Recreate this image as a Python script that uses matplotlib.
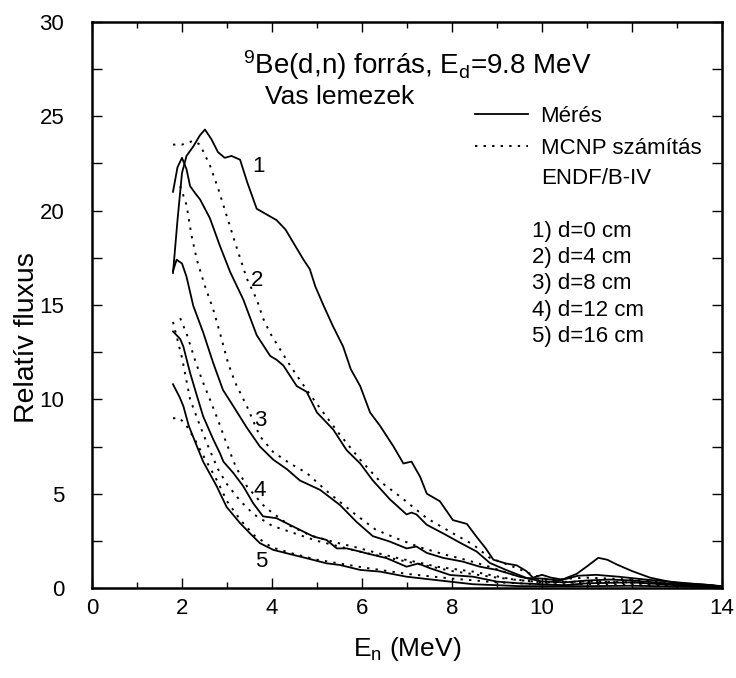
import matplotlib
matplotlib.use("Agg")
import matplotlib.pyplot as plt
from matplotlib.ticker import MultipleLocator
from matplotlib.lines import Line2D

plt.rcParams["font.family"] = "Liberation Sans"
plt.rcParams["mathtext.fontset"] = "custom"
plt.rcParams["mathtext.rm"] = "Liberation Sans"
plt.rcParams["mathtext.it"] = "Liberation Sans:italic"

# measured spectra (Mérés), d = 0, 4, 8, 12, 16 cm
m1_x = [1.8, 1.9, 2.0, 2.1, 2.25, 2.4, 2.51, 2.65, 2.8, 2.95, 3.1, 3.29, 3.45, 3.66, 3.88, 4.1, 4.3, 4.5, 4.7,
        4.84, 4.96, 5.14, 5.35, 5.58, 5.75, 5.96, 6.18, 6.4, 6.7, 6.92, 7.1, 7.29, 7.44, 7.73, 8.02, 8.33, 8.55,
        8.75, 8.92, 9.2, 9.44, 9.65, 9.8, 10.0, 10.2, 10.45, 10.77, 11.0, 11.25, 11.45, 11.66, 12.0, 12.4, 12.8,
        13.1, 13.5, 13.8, 14.0]
m1_y = [16.7, 19.5, 22.0, 22.9, 23.4, 24.0, 24.3, 23.8, 23.1, 22.8, 22.9, 22.7, 21.5, 20.1, 19.8, 19.5, 19.0,
        18.2, 17.4, 16.9, 16.0, 15.0, 13.9, 12.8, 11.6, 10.7, 9.3, 8.6, 7.5, 6.6, 6.7, 5.9, 5.0, 4.6, 3.6, 3.4,
        2.7, 2.1, 1.5, 1.3, 1.2, 0.9, 0.55, 0.7, 0.55, 0.45, 0.75, 1.15, 1.6, 1.5, 1.25, 0.9, 0.55, 0.35, 0.25,
        0.2, 0.15, 0.05]
m2_x = [1.8, 1.9, 2.0, 2.1, 2.18, 2.3, 2.4, 2.62, 2.84, 3.07, 3.36, 3.66, 3.96, 4.1, 4.25, 4.55, 4.77, 5.0,
        5.36, 5.66, 5.96, 6.24, 6.62, 6.99, 7.1, 7.21, 7.44, 7.8, 8.18, 8.55, 8.84, 9.2, 9.66, 10.0, 10.4, 10.8,
        11.2, 11.7, 12.3, 13.0, 13.5, 14.0]
m2_y = [21.0, 22.3, 22.8, 22.2, 21.3, 20.9, 20.6, 19.6, 18.15, 16.75, 15.3, 13.4, 12.3, 12.1, 11.8, 10.7, 10.4,
        9.3, 8.4, 7.3, 6.6, 5.7, 4.7, 3.9, 4.0, 3.9, 3.35, 2.9, 2.4, 1.93, 1.33, 0.96, 0.53, 0.5, 0.4, 0.65,
        0.7, 0.6, 0.45, 0.3, 0.2, 0.1]
m3_x = [1.8, 1.88, 2.0, 2.1, 2.25, 2.47, 2.69, 2.91, 3.14, 3.44, 3.73, 4.03, 4.33, 4.62, 5.07, 5.51, 5.88,
        6.24, 6.62, 6.99, 7.21, 7.44, 7.8, 8.24, 8.62, 9.0, 9.5, 10.0, 10.5, 11.0, 11.5, 12.0, 12.5, 13.0, 14.0]
m3_y = [16.8, 17.4, 17.2, 16.5, 14.96, 13.55, 11.95, 10.5, 9.64, 8.5, 7.5, 6.8, 6.3, 5.7, 5.2, 4.4, 3.5,
        2.75, 2.46, 2.1, 2.2, 1.86, 1.6, 1.4, 1.13, 0.96, 0.6, 0.35, 0.3, 0.4, 0.45, 0.4, 0.3, 0.2, 0.05]
m4_x = [1.8, 1.96, 2.03, 2.18, 2.33, 2.47, 2.69, 2.84, 2.92, 3.14, 3.36, 3.58, 3.8, 4.1, 4.47, 4.92, 5.21,
        5.44, 5.66, 5.96, 6.1, 6.55, 6.99, 7.25, 7.51, 7.96, 8.47, 9.0, 9.5, 10.0, 10.5, 11.0, 12.0, 13.0, 14.0]
m4_y = [13.6, 13.2, 12.8, 11.4, 10.2, 9.1, 7.9, 7.16, 6.7, 6.1, 5.4, 4.5, 3.8, 3.7, 3.26, 2.73, 2.55, 2.1,
        2.1, 1.93, 1.84, 1.58, 1.13, 1.3, 1.05, 0.69, 0.6, 0.34, 0.25, 0.2, 0.15, 0.25, 0.3, 0.15, 0.05]
m5_x = [1.8, 1.95, 2.03, 2.15, 2.3, 2.47, 2.77, 2.99, 3.29, 3.51, 3.73, 4.03, 4.33, 4.77, 5.21, 5.51, 5.96,
        6.4, 6.99, 7.73, 8.47, 9.0, 9.5, 10.0, 11.0, 12.0, 13.0, 14.0]
m5_y = [10.8, 10.1, 9.64, 8.6, 7.7, 6.7, 5.4, 4.3, 3.44, 2.9, 2.38, 2.02, 1.84, 1.58, 1.31, 1.22, 0.96, 0.87,
        0.6, 0.4, 0.2, 0.15, 0.1, 0.1, 0.1, 0.12, 0.08, 0.03]

# MCNP calculation (ENDF/B-IV)
c1_x = [1.8, 2.0, 2.25, 2.4, 2.62, 2.8, 2.99, 3.18, 3.44, 3.66, 3.8, 3.96, 4.18, 4.4, 4.77, 5.14, 5.5, 5.96,
        6.4, 6.84, 7.44, 8.02, 8.47, 8.84, 9.36, 9.8, 10.2, 10.6, 11.0, 11.5, 12.0, 12.5, 13.0, 13.5, 14.0]
c1_y = [23.5, 23.5, 23.7, 23.5, 22.4, 21.2, 19.75, 18.3, 16.4, 15.3, 14.3, 13.5, 12.65, 11.8, 10.5, 9.3, 8.15,
        6.8, 5.65, 4.86, 3.7, 2.9, 2.3, 1.6, 1.13, 0.7, 0.4, 0.5, 0.55, 0.5, 0.45, 0.35, 0.25, 0.15, 0.05]
c2_x = [1.96, 2.1, 2.21, 2.33, 2.51, 2.69, 2.84, 3.02, 3.18, 3.44, 3.73, 4.03, 4.4, 4.77, 5.21, 5.8, 6.3, 6.8,
        7.3, 7.8, 8.3, 8.8, 9.3, 9.8, 10.3, 11.0, 12.0, 13.0, 14.0]
c2_y = [21.3, 20.3, 18.7, 17.4, 16.0, 14.8, 13.55, 11.95, 10.9, 9.64, 8.05, 7.2, 6.6, 6.1, 5.15, 4.0, 3.1, 2.6,
        2.15, 1.8, 1.5, 1.15, 0.75, 0.45, 0.3, 0.35, 0.3, 0.2, 0.05]
c3_x = [1.96, 2.1, 2.3, 2.45, 2.62, 2.8, 3.0, 3.2, 3.44, 3.8, 4.0, 4.4, 4.84, 5.44, 5.88, 6.33, 6.77, 7.36,
        7.66, 8.47, 9.36, 10.0, 11.0, 12.0, 13.0, 14.0]
c3_y = [14.3, 13.5, 12.0, 11.0, 10.0, 8.9, 7.6, 6.4, 5.4, 4.4, 4.0, 3.3, 2.8, 2.4, 2.15, 1.86, 1.6, 1.3, 1.13,
        0.87, 0.45, 0.3, 0.35, 0.3, 0.2, 0.05]
c4_x = [1.8, 2.0, 2.18, 2.4, 2.6, 2.8, 3.0, 3.3, 3.6, 4.0, 4.5, 5.0, 5.5, 6.0, 7.0, 8.0, 9.0, 10.0, 11.0,
        12.0, 13.0, 14.0]
c4_y = [14.1, 12.2, 10.0, 8.6, 7.4, 6.3, 5.5, 4.6, 3.9, 3.3, 2.9, 2.5, 2.2, 1.9, 1.4, 0.9, 0.55, 0.3, 0.3,
        0.25, 0.15, 0.05]
c5_x = [1.8, 1.95, 2.1, 2.3, 2.5, 2.8, 3.0, 3.3, 3.6, 4.0, 4.5, 5.0, 5.5, 6.0, 7.0, 8.0, 9.0, 10.0, 11.0,
        12.0, 13.0, 14.0]
c5_y = [9.0, 9.0, 8.6, 7.8, 6.9, 5.6, 4.6, 3.6, 2.8, 2.15, 1.8, 1.5, 1.3, 1.1, 0.75, 0.5, 0.3, 0.2, 0.2,
        0.15, 0.1, 0.03]

curve_labels = ["1", "2", "3", "4", "5"]
label_x = [3.69, 3.67, 3.73, 3.73, 3.76]
label_y = [22.33, 16.29, 8.86, 5.15, 1.43]
thickness = ["1) d=0 cm", "2) d=4 cm", "3) d=8 cm", "4) d=12 cm", "5) d=16 cm"]

fig = plt.figure(figsize=(7.36, 6.78), dpi=100)
ax = fig.add_axes([0.125, 0.1327, 0.856, 0.8349])

dots = (0, (1.2, 3.2))
for x, y in [(m1_x, m1_y), (m2_x, m2_y), (m3_x, m3_y), (m4_x, m4_y), (m5_x, m5_y)]:
    ax.plot(x, y, color="black", lw=1.3)
for x, y in [(c1_x, c1_y), (c2_x, c2_y), (c3_x, c3_y), (c4_x, c4_y), (c5_x, c5_y)]:
    ax.plot(x, y, color="black", lw=1.4, ls=dots)

for s, x, y in zip(curve_labels, label_x, label_y):
    ax.text(x, y, s, fontsize=16, ha="center", va="center")

ax.set_xlim(0, 14)
ax.set_ylim(0, 30)
ax.xaxis.set_major_locator(MultipleLocator(2))
ax.xaxis.set_minor_locator(MultipleLocator(1))
ax.yaxis.set_major_locator(MultipleLocator(5))
ax.yaxis.set_minor_locator(MultipleLocator(2.5))
ax.tick_params(which="both", direction="in", top=True, right=True, labelsize=16, width=1)
ax.tick_params(axis="x", which="major", length=7.5, pad=7)
ax.tick_params(axis="x", which="minor", length=4)
ax.tick_params(axis="y", which="both", length=7.5, pad=20)
for s in ax.spines.values():
    s.set_linewidth(1.8)

ax.set_xlabel("E$_\\mathregular{n}$ (MeV)", fontsize=19, labelpad=12)
ax.set_ylabel("Relatív fluxus", fontsize=20.5)
ax.yaxis.set_label_coords(-0.082, 0.442)

ax.text(0.24, 0.924, "$\\mathregular{^9}$Be(d,n) forrás, E$_\\mathregular{d}$=9.8 MeV", transform=ax.transAxes,
        fontsize=20, ha="left", va="center")
ax.text(0.2746, 0.8675, "Vas lemezek", transform=ax.transAxes, fontsize=19, ha="left", va="center")

handles = [Line2D([], [], color="black", lw=1.3),
           Line2D([], [], color="black", lw=1.4, ls=dots)]
ax.legend(handles, ["Mérés", "MCNP számítás"], loc="upper left", bbox_to_anchor=(0.608, 0.852),
          frameon=False, fontsize=16, handlelength=2.4, handletextpad=0.55, labelspacing=0.5,
          borderpad=0, borderaxespad=0)
ax.text(0.7127, 0.724, "ENDF/B-IV", transform=ax.transAxes, fontsize=16, ha="left", va="center")
for i, s in enumerate(thickness):
    ax.text(0.698, 0.630 - i * 0.0463, s, transform=ax.transAxes, fontsize=16, ha="left", va="center")

fig.savefig("out.png", dpi=100)
